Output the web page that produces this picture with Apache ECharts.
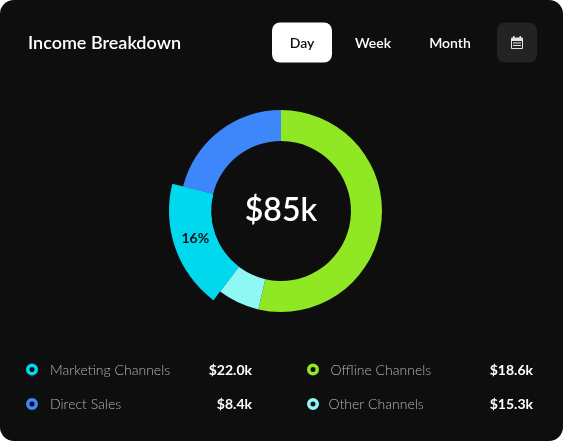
<!DOCTYPE html>
<html lang="en">

<head>
  <meta charset="UTF-8">
  <title>Income Breakdown</title>
  <style>
    html, body { margin: 0; padding: 0; background: #fff; }
    #main { width: 563px; height: 441px; }
  </style>
</head>

<body>
  <div id="main"></div>
</body>
<script src="https://cdn.jsdelivr.net/npm/echarts@6/dist/echarts.min.js"></script>
<script>
  var sliceNames = ['Offline Channels', 'Other Channels', 'Marketing Channels', 'Direct Sales'];
  var sliceValues = [53.6, 6.7, 18.6, 21.1];
  var sliceColors = ['#90e825', '#8ff8f5', '#00d8ee', '#3d87fa'];
  var raisedSlice = 'Marketing Channels';
  var raisedLabel = '16%';
  var centerLabel = '$85k';

  var legendNames = ['Marketing Channels', 'Offline Channels', 'Direct Sales', 'Other Channels'];
  var legendAmounts = ['$22.0k', '$18.6k', '$8.4k', '$15.3k'];
  var legendColors = ['#00d8ee', '#90e825', '#3d87fa', '#8ff8f5'];
  var legendTextX = [50, 330.5, 50, 328.5];
  var periods = ['Day', 'Week', 'Month'];
  var periodX = [302, 373, 450];

  var font = 'Lato, "Noto Sans", sans-serif';
  var cardColor = '#0e0e0f';
  var iconBg = '#232323';
  var iconFg = '#e4e4e4';
  var myChart = echarts.init(document.getElementById('main'), null, { renderer: 'canvas' });

  function sliceData(onlyRaised) {
    return sliceNames.map(function (name, i) {
      var isRaised = name === raisedSlice;
      return {
        name: name,
        value: sliceValues[i],
        itemStyle: { color: !onlyRaised || isRaised ? sliceColors[i] : 'transparent' },
        label: { show: onlyRaised && isRaised }
      };
    });
  }

  var graphics = [
    { type: 'rect', z: -10, silent: true, shape: { x: 0, y: 0, width: 563, height: 441, r: 14 }, style: { fill: cardColor } },
    { type: 'text', x: 28, y: 43, style: { text: 'Income Breakdown', fill: '#fff', font: '600 18px ' + font, textVerticalAlign: 'middle' } },
    { type: 'rect', shape: { x: 272, y: 22.5, width: 60, height: 40, r: 8 }, style: { fill: '#fff' } },
    { type: 'rect', shape: { x: 497, y: 22.5, width: 40, height: 40, r: 8 }, style: { fill: iconBg } },
    // calendar icon
    { type: 'rect', shape: { x: 513, y: 36, width: 1.5, height: 3 }, style: { fill: iconFg } },
    { type: 'rect', shape: { x: 519.5, y: 36, width: 1.5, height: 3 }, style: { fill: iconFg } },
    { type: 'rect', shape: { x: 511, y: 37.5, width: 12, height: 11.5, r: 1 }, style: { fill: iconFg } },
    { type: 'rect', shape: { x: 512, y: 41, width: 10, height: 7 }, style: { fill: iconBg } },
    { type: 'rect', shape: { x: 513, y: 42.5, width: 8, height: 1 }, style: { fill: iconFg } },
    { type: 'rect', shape: { x: 513, y: 45, width: 8, height: 1 }, style: { fill: iconFg } },
    { type: 'text', x: 281, y: 210.5, z: 10, style: { text: centerLabel, fill: '#fff', font: '600 32px ' + font, textAlign: 'center', textVerticalAlign: 'middle' } }
  ];

  periods.forEach(function (p, i) {
    graphics.push({
      type: 'text', x: periodX[i], y: 43,
      style: { text: p, fill: i === 0 ? '#111' : '#fff', font: '600 14px ' + font, textAlign: 'center', textVerticalAlign: 'middle' }
    });
  });

  legendNames.forEach(function (name, i) {
    var col = i % 2;
    var y = i < 2 ? 369.5 : 404;
    graphics.push({ type: 'ring', shape: { cx: col ? 313 : 32, cy: y, r: 6, r0: 2.5 }, style: { fill: legendColors[i] } });
    graphics.push({
      type: 'text', x: legendTextX[i], y: y + 0.5,
      style: { text: name, fill: '#b4b4b4', font: '300 14px ' + font, textVerticalAlign: 'middle' }
    });
    graphics.push({
      type: 'text', x: col ? 533 : 252, y: y + 0.5,
      style: { text: legendAmounts[i], fill: '#fff', font: '700 14px ' + font, textAlign: 'right', textVerticalAlign: 'middle' }
    });
  });

  var option = {
    backgroundColor: 'transparent',
    animation: false,
    graphic: { elements: graphics },
    series: [
      {
        type: 'pie',
        silent: true,
        clockwise: true,
        startAngle: 90,
        center: [281, 211],
        radius: [70, 101],
        label: { show: false },
        labelLine: { show: false },
        data: sliceData(false)
      },
      {
        type: 'pie',
        silent: true,
        clockwise: true,
        startAngle: 90,
        center: [281, 211],
        radius: [70, 112],
        z: 3,
        label: {
          position: 'inside',
          formatter: raisedLabel,
          color: '#111',
          fontFamily: font,
          fontSize: 14,
          fontWeight: 700
        },
        labelLayout: { dx: 3, dy: -4 },
        labelLine: { show: false },
        data: sliceData(true)
      }
    ]
  };

  option && myChart.setOption(option);
</script>

</html>
